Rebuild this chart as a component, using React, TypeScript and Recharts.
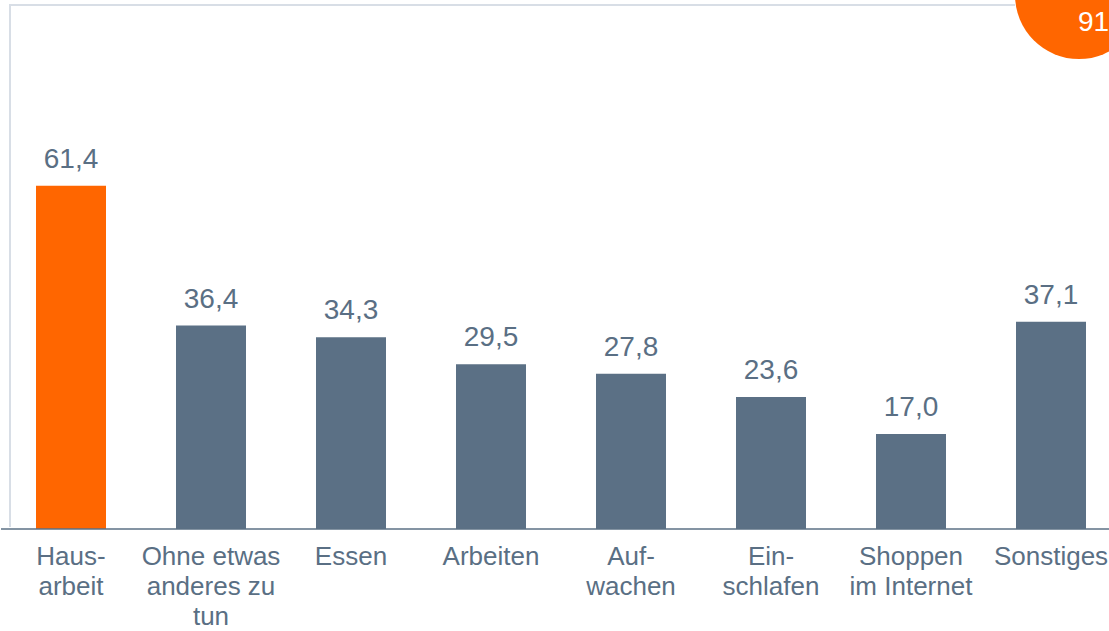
import React from 'react';
import { BarChart, Bar, XAxis, YAxis, Cell, LabelList } from 'recharts';

const categories = [
  'Hausarbeit',
  'Ohne etwas anderes zu tun',
  'Essen',
  'Arbeiten',
  'Aufwachen',
  'Einschlafen',
  'Shoppen im Internet',
  'Sonstiges',
];

const tickLines: string[][] = [
  ['Haus-', 'arbeit'],
  ['Ohne etwas', 'anderes zu', 'tun'],
  ['Essen'],
  ['Arbeiten'],
  ['Auf-', 'wachen'],
  ['Ein-', 'schlafen'],
  ['Shoppen', 'im Internet'],
  ['Sonstiges'],
];

const values = [61.4, 36.4, 34.3, 29.5, 27.8, 23.6, 17.0, 37.1];

const pageNumber = '91';

const ORANGE = '#ff6600';
const SLATE = '#5b7085';
const TEXT = '#5a6f84';
const FONT = '"Liberation Sans", Arial, sans-serif';

const data = categories.map((name, i) => ({ name, value: values[i] }));

const formatValue = (v: number) => v.toFixed(1).replace('.', ',');

const MultiLineTick = ({ x, y, payload, index }: any) => {
  const lines = tickLines[index] ?? [payload.value];
  return (
    <text x={x} y={y + 28} textAnchor="middle" fill={TEXT} fontSize={26} fontFamily={FONT}>
      {lines.map((line, i) => (
        <tspan key={i} x={x} dy={i === 0 ? 0 : 30}>
          {line}
        </tspan>
      ))}
    </text>
  );
};

export default function App() {
  return (
    <div
      style={{
        position: 'fixed',
        top: 0,
        left: 0,
        width: 1109,
        height: 631,
        overflow: 'hidden',
        background: '#fff',
        fontFamily: FONT,
      }}
    >
      {/* light frame at the top and left */}
      <div
        style={{
          position: 'absolute',
          left: 9,
          top: 4,
          width: 1004,
          height: 521,
          borderTop: '2px solid #d8dee6',
          borderLeft: '2px solid #d8dee6',
        }}
      />
      <BarChart
        width={1121}
        height={631}
        data={data}
        margin={{ top: 26, right: 0, left: 1, bottom: 0 }}
        barCategoryGap="25%"
        style={{ position: 'absolute', left: 0, top: 0 }}
      >
        <XAxis
          dataKey="name"
          height={102}
          interval={0}
          tickLine={false}
          axisLine={{ stroke: SLATE, strokeWidth: 1.5 }}
          tick={<MultiLineTick />}
        />
        <YAxis hide domain={[0, 90]} />
        <Bar dataKey="value" isAnimationActive={false}>
          {data.map((d, i) => (
            <Cell key={d.name} fill={i === 0 ? ORANGE : SLATE} />
          ))}
          <LabelList
            dataKey="value"
            position="top"
            offset={18}
            formatter={(v: any) => formatValue(Number(v))}
            fill={TEXT}
            fontSize={28}
            fontFamily={FONT}
          />
        </Bar>
      </BarChart>
      {/* page badge */}
      <div
        style={{
          position: 'absolute',
          left: 1015,
          top: -69,
          width: 128,
          height: 128,
          borderRadius: '50%',
          background: ORANGE,
        }}
      />
      <div
        style={{
          position: 'absolute',
          left: 1078,
          top: 6,
          color: '#fff',
          fontSize: 28,
          lineHeight: '32px',
          fontFamily: FONT,
        }}
      >
        {pageNumber}
      </div>
    </div>
  );
}
